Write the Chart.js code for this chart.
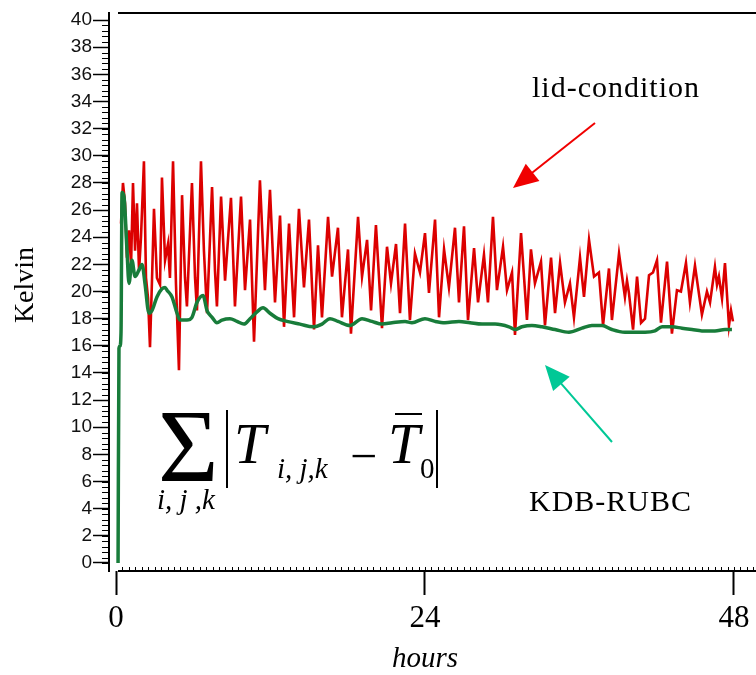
<!DOCTYPE html>
<html>
<head>
<meta charset="utf-8">
<script src="https://cdn.jsdelivr.net/npm/chart.js@4.4.1/dist/chart.umd.min.js"></script>
<style>
  html, body { margin: 0; padding: 0; background: #fff; }
  #chart { display: block; }
</style>
</head>
<body>
<canvas id="chart" width="756" height="675"></canvas>
<script>
// lid-condition run (red): time in hours, departure sum in Kelvin
const lidHours = [
  0.39, 0.54, 0.70, 0.85, 1.01, 1.17, 1.32, 1.48, 1.63, 1.79, 1.94, 2.17, 2.33, 2.49, 2.64, 2.80,
  2.95, 3.18, 3.42, 3.57, 3.81, 4.04, 4.19, 4.43, 4.66, 4.89, 5.13, 5.36, 5.51, 5.90, 6.14, 6.29,
  6.60, 6.83, 7.07, 7.46, 7.69, 7.84, 8.16, 8.47, 8.93, 9.24, 9.71, 10.02, 10.41, 10.72, 11.18, 11.57,
  11.96, 12.35, 12.74, 13.05, 13.44, 13.83, 14.21, 14.60, 14.99, 15.38, 15.69, 16.00, 16.47, 16.78, 17.24, 17.55,
  18.02, 18.25, 18.80, 19.11, 19.50, 19.81, 20.19, 20.66, 21.05, 21.36, 21.75, 22.06, 22.45, 22.83, 23.22, 23.61,
  24.00, 24.31, 24.78, 25.09, 25.48, 25.86, 26.33, 26.64, 27.03, 27.34, 27.81, 28.12, 28.58, 28.89, 29.28, 29.59,
  30.06, 30.37, 30.76, 30.99, 31.46, 31.92, 32.23, 32.54, 33.01, 33.32, 33.79, 34.10, 34.49, 34.87, 35.26, 35.57,
  36.04, 36.35, 36.74, 37.13, 37.51, 37.83, 38.29, 38.52, 39.07, 39.53, 39.69, 39.84, 40.16, 40.47, 40.78, 41.09,
  41.40, 41.71, 42.02, 42.33, 42.80, 43.18, 43.57, 43.88, 44.27, 44.58, 44.97, 45.51, 45.90, 46.14, 46.52, 46.68,
  46.83, 47.07, 47.30, 47.61, 47.77, 47.92
];
const lidKelvin = [
  25.0, 28.0, 26.5, 22.5, 24.5, 22.0, 28.0, 23.0, 26.5, 21.5, 24.0, 29.6, 21.0, 19.5, 15.9, 21.0,
  26.1, 21.0, 20.5, 28.4, 22.3, 23.5, 21.0, 29.6, 20.5, 14.2, 27.1, 21.0, 18.9, 28.0, 21.0, 18.6,
  29.6, 23.0, 18.4, 27.7, 21.5, 18.9, 27.0, 20.8, 26.9, 18.9, 27.0, 20.1, 25.3, 16.3, 28.2, 20.1,
  27.5, 19.2, 25.6, 17.4, 25.0, 18.1, 26.1, 20.3, 25.3, 17.2, 23.4, 18.1, 25.5, 21.1, 24.7, 18.1,
  23.1, 16.9, 25.5, 21.1, 23.8, 18.6, 24.9, 17.3, 23.3, 20.6, 23.5, 18.4, 25.0, 17.9, 22.8, 21.4,
  24.3, 19.9, 25.3, 18.1, 23.1, 20.3, 24.7, 19.2, 24.8, 17.9, 23.2, 19.2, 22.7, 19.2, 25.5, 20.1,
  23.3, 20.1, 21.4, 16.8, 24.3, 17.9, 23.1, 20.6, 22.2, 17.5, 22.5, 18.4, 22.1, 19.2, 20.6, 18.1,
  22.5, 19.6, 23.8, 21.1, 21.4, 17.5, 21.7, 17.9, 22.8, 19.6, 20.8, 19.9, 17.2, 21.1, 17.7, 18.0,
  21.2, 21.4, 22.3, 17.7, 22.2, 16.9, 20.1, 20.0, 22.1, 19.2, 21.9, 18.3, 20.0, 19.2, 21.8, 20.5,
  21.1, 19.5, 22.1, 17.5, 18.6, 17.8
];

// KDB-RUBC run (green)
const rubcHours = [
  0.16, 0.23, 0.31, 0.39, 0.47, 0.62, 0.85, 1.01, 1.24, 1.48, 1.79, 2.02, 2.25, 2.56, 2.80, 3.18,
  3.57, 3.81, 3.96, 4.35, 4.74, 4.97, 5.51, 5.90, 6.29, 6.76, 7.07, 7.46, 7.84, 8.23, 8.85, 9.40,
  9.94, 10.41, 10.95, 11.42, 11.96, 12.58, 13.28, 14.29, 15.30, 16.00, 16.62, 17.24, 18.17, 19.11, 19.88, 20.66,
  21.44, 22.45, 22.99, 24.00, 24.78, 25.55, 26.64, 27.50, 28.43, 29.44, 30.52, 30.99, 31.53, 32.31, 33.09, 34.10,
  35.18, 36.19, 36.97, 37.75, 38.52, 39.53, 41.09, 41.86, 42.41, 43.18, 43.96, 44.74, 45.51, 46.52, 47.30, 47.84
];
const rubcKelvin = [
  0.0, 15.8, 16.0, 17.0, 27.3, 27.0, 23.1, 20.6, 22.3, 21.1, 21.6, 22.0, 20.6, 18.4, 18.6, 19.6,
  20.2, 20.3, 20.1, 19.6, 18.4, 17.9, 17.9, 18.1, 19.2, 19.7, 18.6, 18.1, 17.7, 17.9, 18.0, 17.8,
  17.6, 18.0, 18.5, 18.8, 18.4, 18.0, 17.8, 17.6, 17.4, 17.6, 18.0, 17.8, 17.5, 18.0, 17.8, 17.6,
  17.7, 17.8, 17.7, 18.0, 17.8, 17.7, 17.8, 17.7, 17.6, 17.6, 17.4, 17.2, 17.4, 17.5, 17.4, 17.2,
  17.0, 17.3, 17.5, 17.5, 17.2, 17.0, 17.0, 17.1, 17.4, 17.4, 17.3, 17.2, 17.1, 17.1, 17.2, 17.2
];

const xTicks = [0, 24, 48];
const yTicks = [0, 2, 4, 6, 8, 10, 12, 14, 16, 18, 20, 22, 24, 26, 28, 30, 32, 34, 36, 38, 40];

const toPoints = (xs, ys) => xs.map((x, i) => ({ x, y: ys[i] }));

function arrow(ctx, x0, y0, x1, y1, color) {
  const a = Math.atan2(y1 - y0, x1 - x0);
  const len = 25, half = 11;
  ctx.save();
  ctx.strokeStyle = color;
  ctx.fillStyle = color;
  ctx.lineWidth = 2;
  ctx.beginPath();
  ctx.moveTo(x0, y0);
  ctx.lineTo(x1 - Math.cos(a) * len * 0.8, y1 - Math.sin(a) * len * 0.8);
  ctx.stroke();
  ctx.beginPath();
  ctx.moveTo(x1, y1);
  ctx.lineTo(x1 - Math.cos(a) * len - Math.sin(a) * half, y1 - Math.sin(a) * len + Math.cos(a) * half);
  ctx.lineTo(x1 - Math.cos(a) * len + Math.sin(a) * half, y1 - Math.sin(a) * len - Math.cos(a) * half);
  ctx.closePath();
  ctx.fill();
  ctx.restore();
}

const decorations = {
  id: "decorations",
  afterDraw(chart) {
    const { ctx, chartArea } = chart;
    const xs = chart.scales.x;
    const ys = chart.scales.y;
    ctx.save();

    // frame lines
    ctx.strokeStyle = "#000";
    ctx.lineWidth = 2;
    ctx.beginPath();
    ctx.moveTo(118, chartArea.top);
    ctx.lineTo(chartArea.right, chartArea.top);
    ctx.moveTo(118, chartArea.bottom);
    ctx.lineTo(chartArea.right, chartArea.bottom);
    ctx.stroke();

    // minor ticks
    ctx.lineWidth = 1;
    ctx.beginPath();
    for (let v = 0; v <= 40.01; v += 0.4) {
      const py = Math.round(ys.getPixelForValue(v)) + 0.5;
      ctx.moveTo(chartArea.left - 7, py);
      ctx.lineTo(chartArea.left, py);
    }
    for (let h = 0.5; h <= 49.6; h += 0.5) {
      const px = Math.round(xs.getPixelForValue(h)) + 0.5;
      ctx.moveTo(px, chartArea.bottom - 4);
      ctx.lineTo(px, chartArea.bottom);
    }
    ctx.stroke();

    // axis titles
    ctx.fillStyle = "#000";
    ctx.textAlign = "center";
    ctx.textBaseline = "middle";
    ctx.font = "italic 29px 'Liberation Serif'";
    ctx.fillText("hours", 425, 659);
    ctx.save();
    ctx.translate(26, 285);
    ctx.rotate(-Math.PI / 2);
    ctx.font = "28px 'Liberation Serif'";
    ctx.fillText("Kelvin", 0, 0);
    ctx.restore();

    // labels and arrows
    ctx.textAlign = "left";
    ctx.textBaseline = "alphabetic";
    ctx.font = "30px 'Liberation Serif'";
    ctx.letterSpacing = "1px";
    ctx.fillText("lid-condition", 532, 97);
    ctx.fillText("KDB-RUBC", 529, 511);
    ctx.letterSpacing = "0px";
    arrow(ctx, 595, 123, 513, 188, "#f00000");
    arrow(ctx, 612, 442, 545, 365, "#00c896");

    // formula
    ctx.fillStyle = "#000";
    ctx.strokeStyle = "#000";
    ctx.font = "104px 'Liberation Serif'";
    ctx.fillText("\u03A3", 158, 481);
    ctx.font = "italic 29px 'Liberation Serif'";
    ctx.fillText("i, j ,k", 157, 509);
    ctx.font = "italic 57px 'Liberation Serif'";
    ctx.fillText("T", 234, 463);
    ctx.fillText("T", 388, 463);
    ctx.font = "italic 29px 'Liberation Serif'";
    ctx.fillText("i, j,k", 277, 478);
    ctx.font = "29px 'Liberation Serif'";
    ctx.fillText("0", 420, 478);
    ctx.font = "48px 'Liberation Serif'";
    ctx.fillText("\u2212", 350, 472);
    ctx.lineWidth = 2;
    ctx.beginPath();
    ctx.moveTo(227, 410); ctx.lineTo(227, 488);
    ctx.moveTo(437, 410); ctx.lineTo(437, 488);
    ctx.moveTo(395, 414); ctx.lineTo(422, 414);
    ctx.stroke();

    ctx.restore();
  }
};

new Chart(document.getElementById("chart"), {
  type: "line",
  data: {
    datasets: [
      {
        label: "KDB-RUBC",
        data: toPoints(rubcHours, rubcKelvin),
        borderColor: "#187c3a",
        borderWidth: 3.5,
        pointRadius: 0,
        cubicInterpolationMode: "monotone",
        order: 0
      },
      {
        label: "lid-condition",
        data: toPoints(lidHours, lidKelvin),
        borderColor: "#dc0000",
        borderWidth: 2.6,
        pointRadius: 0,
        tension: 0,
        order: 1
      }
    ]
  },
  options: {
    responsive: false,
    animation: false,
    devicePixelRatio: 1,
    layout: { padding: { top: 13, right: 0, bottom: 0, left: 0 } },
    plugins: {
      legend: { display: false },
      tooltip: { enabled: false }
    },
    scales: {
      x: {
        type: "linear",
        min: -0.544,
        max: 49.71,
        afterBuildTicks: (s) => { s.ticks = xTicks.map((v) => ({ value: v })); },
        afterFit: (s) => { s.height = 104; },
        border: { display: false },
        grid: { drawOnChartArea: false, tickLength: 24, tickWidth: 2, tickColor: "#000" },
        ticks: {
          font: { family: "Liberation Serif", size: 31 },
          color: "#000",
          padding: 5,
          maxRotation: 0
        }
      },
      y: {
        min: -0.59,
        max: 40.52,
        afterBuildTicks: (s) => { s.ticks = yTicks.map((v) => ({ value: v })); },
        afterFit: (s) => { s.width = 109; },
        border: { display: true, color: "#000", width: 2 },
        grid: { drawOnChartArea: false, tickLength: 16, tickWidth: 1.5, tickColor: "#000" },
        ticks: {
          font: { family: "Liberation Sans", size: 19 },
          color: "#111",
          padding: 1
        }
      }
    }
  },
  plugins: [decorations]
});
</script>
</body>
</html>
